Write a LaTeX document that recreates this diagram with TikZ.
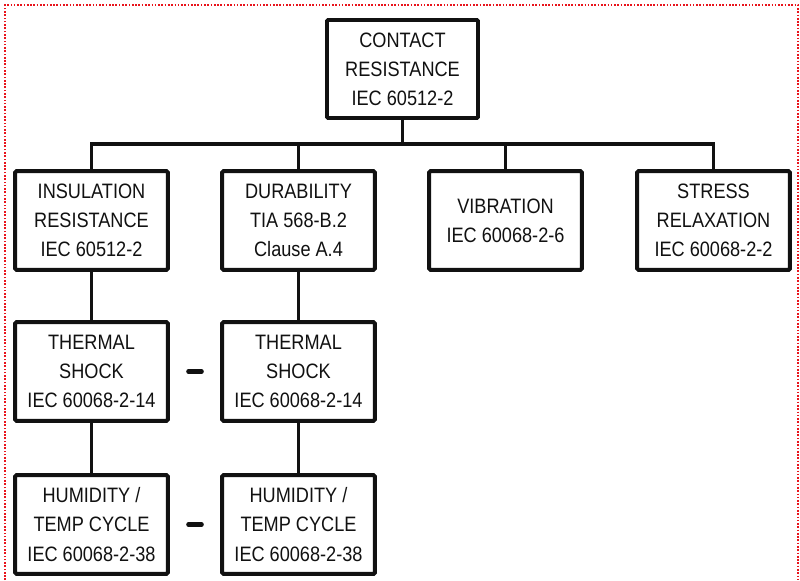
\documentclass[tikz,border=0pt]{standalone}
\usepackage{fontspec}
\setmainfont{Liberation Sans}[FakeStretch=0.87]
\usepackage{tikz}
\usetikzlibrary{calc}
\definecolor{Frame}{HTML}{E8141C}
\definecolor{Ink}{HTML}{111111}

\begin{document}
\begin{tikzpicture}[
  testbox/.style={draw=Ink,line width=3.3pt,rounded corners=1pt,fill=white,
    minimum width=4.58cm,minimum height=2.96cm,align=center,
    font=\fontsize{17.8}{24.9}\selectfont,text=Ink,inner sep=0pt},
  link/.style={draw=Ink,line width=3.3pt},
  seq/.style={draw=Ink,line width=3.6pt,line cap=round}]
  \useasboundingbox (0,0) rectangle (24,-17.4);
  \draw[Frame,line width=1.1pt,dash pattern=on 1.4pt off 1.4pt]
    (0.15,-17.6) -- (0.15,-0.15) -- (23.94,-0.15) -- (23.94,-17.6);

  \node[testbox,minimum width=4.53cm,minimum height=2.94cm] (cr) at (12.075,-2.07) {CONTACT\\RESISTANCE\\IEC 60512-2};
  \node[testbox] (ir) at (2.745,-6.615) {INSULATION\\RESISTANCE\\IEC 60512-2};
  \node[testbox] (dur) at (8.955,-6.615) {DURABILITY\\TIA 568-B.2\\Clause A.4};
  \node[testbox] (vib) at (15.165,-6.615) {VIBRATION\\IEC 60068-2-6};
  \node[testbox] (sr) at (21.405,-6.615) {STRESS\\RELAXATION\\IEC 60068-2-2};
  \node[testbox] (tsa) at (2.745,-11.145) {THERMAL\\SHOCK\\IEC 60068-2-14};
  \node[testbox] (tsb) at (8.955,-11.145) {THERMAL\\SHOCK\\IEC 60068-2-14};
  \node[testbox] (hca) at (2.745,-15.735) {HUMIDITY /\\TEMP CYCLE\\IEC 60068-2-38};
  \node[testbox] (hcb) at (8.955,-15.735) {HUMIDITY /\\TEMP CYCLE\\IEC 60068-2-38};

  % tree
  \coordinate (bus) at (0,-4.32);
  \draw[link] (cr.south) -- (cr.south |- bus);
  \draw[link] (ir.north) |- (sr.north |- bus) -- (sr.north);
  \draw[link] (dur.north) -- (dur.north |- bus);
  \draw[link] (vib.north) -- (vib.north |- bus);
  \draw[link] (ir) -- (tsa);
  \draw[link] (tsa) -- (hca);
  \draw[link] (dur) -- (tsb);
  \draw[link] (tsb) -- (hcb);

  % same sequence marks
  \draw[seq] ($(tsa.east)!0.5!(tsb.west)+(-0.2,0)$) -- ++(0.4,0);
  \draw[seq] ($(hca.east)!0.5!(hcb.west)+(-0.2,0)$) -- ++(0.4,0);
\end{tikzpicture}
\end{document}
